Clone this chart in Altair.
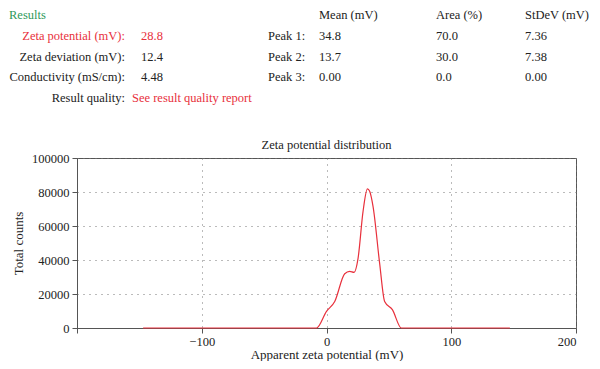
import altair as alt
import pandas as pd

# distribution curve
zeta_mv = [-147, -8, 0, 6.6, 14.6, 18.6, 22.1, 25.3, 29.3, 32.8, 34.6, 37.3, 42.6, 46.6, 52.8, 60, 147]
counts = [0, 0, 9800, 15600, 31900, 33300, 32700, 41000, 68600, 81800, 80400, 71500, 38000, 15600, 10800, 0, 0]

# header tables
result_labels = ["Zeta potential (mV):", "Zeta deviation (mV):", "Conductivity (mS/cm):", "Result quality:"]
result_values = ["28.8", "12.4", "4.48", "See result quality report"]
result_colors = ["#e8303c", "#222222", "#222222", "#222222"]
value_colors = ["#e8303c", "#222222", "#222222", "#e8303c"]
peak_labels = ["Peak 1:", "Peak 2:", "Peak 3:"]
peak_mean = ["34.8", "13.7", "0.00"]
peak_area = ["70.0", "30.0", "0.0"]
peak_stdev = ["7.36", "7.38", "0.00"]
col_headers = ["Mean (mV)", "Area (%)", "StDeV (mV)"]

FONT = "Liberation Serif"
FS = 12.5
W, H = 499, 170
ROW0, DY = -122, 20.7

curve = pd.DataFrame({"x": zeta_mv, "y": counts})

line = alt.Chart(curve).mark_line(color="#e8303c", strokeWidth=1.2, interpolate="monotone").encode(
    x=alt.X("x:Q", scale=alt.Scale(domain=[-200, 200], nice=False),
            axis=alt.Axis(values=[-200, -100, 0, 100, 200],
                          labelExpr="datum.value == -200 ? '' : (datum.value < 0 ? '\u2212' + abs(datum.value) : datum.value)",
                          title="Apparent zeta potential (mV)", grid=True)),
    y=alt.Y("y:Q", scale=alt.Scale(domain=[0, 100000], nice=False),
            axis=alt.Axis(values=[0, 20000, 40000, 60000, 80000, 100000], format="d",
                          title="Total counts", grid=True)),
)

def text_layer(df, x, align, color_field=None, color="#222222"):
    base = alt.Chart(df).transform_calculate(py=f"{ROW0} + datum.row * {DY}")
    enc = dict(x=alt.value(x), y=alt.Y("py:Q", scale=None), text="t:N")
    if color_field:
        enc["color"] = alt.Color(f"{color_field}:N", scale=None)
        m = base.mark_text(align=align, baseline="middle", font=FONT, fontSize=FS)
    else:
        m = base.mark_text(align=align, baseline="middle", font=FONT, fontSize=FS, color=color)
    return m.encode(**enc)

lab_df = pd.DataFrame({"t": result_labels, "row": range(4), "c": result_colors})
val_df = pd.DataFrame({"t": result_values, "row": range(4), "c": value_colors})
peak_df = pd.DataFrame({"t": peak_labels, "row": range(3)})
mean_df = pd.DataFrame({"t": peak_mean, "row": range(3)})
area_df = pd.DataFrame({"t": peak_area, "row": range(3)})
sd_df = pd.DataFrame({"t": peak_stdev, "row": range(3)})
head_df = pd.DataFrame({"t": col_headers, "xx": [242, 359, 448]})

labels = text_layer(lab_df, 48, "right", "c")
values = alt.Chart(val_df).transform_calculate(py=f"{ROW0} + datum.row * {DY}").transform_calculate(
    px="datum.row == 3 ? 55 : 64").mark_text(align="left", baseline="middle", font=FONT, fontSize=FS).encode(
    x=alt.X("px:Q", scale=None), y=alt.Y("py:Q", scale=None), text="t:N", color=alt.Color("c:N", scale=None))
peaks = text_layer(peak_df, 191, "left")
means = text_layer(mean_df, 242, "left")
areas = text_layer(area_df, 359, "left")
sds = text_layer(sd_df, 448, "left")
heads = alt.Chart(head_df).mark_text(align="left", baseline="middle", font=FONT, fontSize=FS, color="#222222").encode(
    x=alt.X("xx:Q", scale=None), y=alt.value(-143), text="t:N")
results = alt.Chart(pd.DataFrame({"t": ["Results"]})).mark_text(
    align="left", baseline="middle", font=FONT, fontSize=FS, color="#2e9a5a").encode(
    x=alt.value(-68), y=alt.value(-143), text="t:N")
ptitle = alt.Chart(pd.DataFrame({"t": ["Zeta potential distribution"]})).mark_text(
    align="center", baseline="middle", font=FONT, fontSize=FS, color="#222222").encode(
    x=alt.value(W / 2), y=alt.value(-13), text="t:N")

chart = alt.layer(line, labels, values, peaks, means, areas, sds, heads, results, ptitle).properties(
    width=W, height=H,
    autosize=alt.AutoSizeParams(type="none"),
    padding={"left": 69, "top": 150, "right": 16, "bottom": 33},
).configure_view(stroke="#555555", strokeWidth=1).configure_axis(
    labelFont=FONT, titleFont=FONT, labelFontSize=FS, titleFontSize=13,
    labelColor="#222222", titleColor="#222222", titleFontWeight="normal",
    domainColor="#555555", tickColor="#555555", tickSize=5,
    gridColor="#777777", gridDash=[1, 5], gridWidth=1,
).configure_axisX(titlePadding=1, labelPadding=2).configure_axisY(titlePadding=6, labelPadding=3)

chart.save("out.html", embed_options={"renderer": "svg", "actions": False})
